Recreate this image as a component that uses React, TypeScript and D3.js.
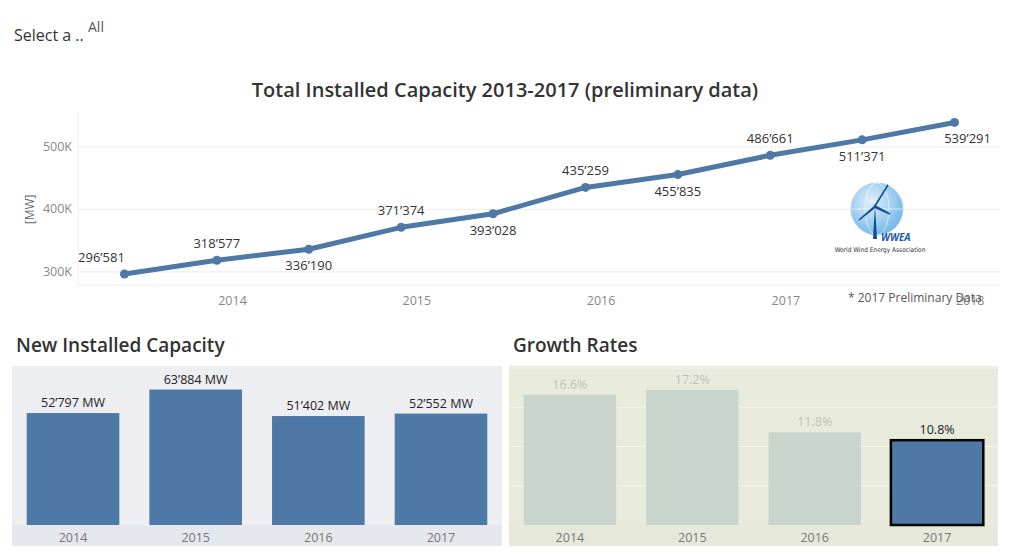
import React from "react";
import * as d3 from "d3";

const lineDates = ["2013-06", "2013-12", "2014-06", "2014-12", "2015-06", "2015-12", "2016-06", "2016-12", "2017-06", "2017-12"];
const totalCapacity = [296581, 318577, 336190, 371374, 393028, 435259, 455835, 486661, 511371, 539291];
const labelAbove = [true, true, false, true, false, true, false, true, false, false];
const yTicks = [300000, 400000, 500000];
const xTickYears = [2014, 2015, 2016, 2017, 2018];

const barYears = ["2014", "2015", "2016", "2017"];
const newCapacity = [52797, 63884, 51402, 52552];
const growthRates = [16.6, 17.2, 11.8, 10.8];
const growthGrid = [5, 10, 15, 20];
const highlightYear = "2017";

const FONT = "'Open Sans', 'Noto Sans', sans-serif";
const BLUE = "#4e78a6";

const fmt = (v: number) => d3.format(",")(v).replace(/,/g, "\u2019");

function parseYM(s: string) {
  const [y, m] = s.split("-").map(Number);
  return new Date(y, m - 1, 1);
}

export default function App() {
  const W = 1009, H = 557;
  // top line chart
  const x = d3.scaleTime().domain([new Date(2013, 2, 1), new Date(2018, 2, 1)]).range([70, 992]);
  const y = d3.scaleLinear().domain([279000, 556000]).range([277, 104]);
  const pts = lineDates.map((d, i) => ({ x: x(parseYM(d)), y: y(totalCapacity[i]), v: totalCapacity[i], above: labelAbove[i], i }));
  const line = d3.line<any>().x((d) => d.x).y((d) => d.y);

  // bar charts
  const xb = d3.scaleBand().domain(barYears).range([4, 494]).paddingInner(0.245).paddingOuter(0.12);
  const yb = d3.scaleLinear().domain([0, 75000]).range([517, 358]);
  const xg = d3.scaleBand().domain(barYears).range([501, 990]).paddingInner(0.245).paddingOuter(0.12);
  const yg = d3.scaleLinear().domain([0, 20.25]).range([517, 358]);

  return (
    <svg width={W} height={H} style={{ display: "block", fontFamily: FONT }}>
      <g>
        <text x={6} y={33} fontSize={16} fill="#333">Select a ..</text>
        <text x={80} y={24} fontSize={14} fill="#555">All</text>
      </g>
      <text x={497} y={89} fontSize={20} fontWeight={600} fill="#333" textAnchor="middle">Total Installed Capacity 2013-2017 (preliminary data)</text>
      {/* gridlines */}
      {yTicks.map((t) => (
        <g key={t}>
          <line x1={70} x2={992} y1={y(t)} y2={y(t)} stroke="#ececec" strokeWidth={1} />
          <text x={64} y={y(t) + 4} fontSize={12.5} fill="#888" textAnchor="end">{d3.format("~s")(t).replace("k", "K")}</text>
        </g>
      ))}
      <line x1={70} x2={70} y1={104} y2={277} stroke="#f0f0f0" />
      <line x1={70} x2={992} y1={277} y2={277} stroke="#eaeaea" />
      <text transform={`translate(26,${y(400000)}) rotate(-90)`} fontSize={12} fill="#666" textAnchor="middle">[MW]</text>
      {xTickYears.map((yr) => (
        <text key={yr} x={x(new Date(yr, 0, 1))} y={297} fontSize={12.5} fill="#888" textAnchor="middle">{yr}</text>
      ))}
      <path d={line(pts) || ""} fill="none" stroke={BLUE} strokeWidth={5} strokeLinejoin="round" strokeLinecap="round" />
      {pts.map((p) => (
        <circle key={p.i} cx={p.x} cy={p.y} r={4.5} fill={BLUE} />
      ))}
      {pts.map((p) => (
        <text key={"l" + p.i} x={p.x + (p.i === 0 ? -23 : p.i === pts.length - 1 ? 13 : 0)} y={p.above ? p.y - 12 : p.y + 21}
          fontSize={13} fill="#333" textAnchor="middle">{fmt(p.v)}</text>
      ))}
      {/* WWEA logo */}
      <g>
        <defs>
          <radialGradient id="globe" cx="40%" cy="35%" r="70%">
            <stop offset="0%" stopColor="#e2f1fc" />
            <stop offset="100%" stopColor="#6eb4e6" />
          </radialGradient>
        </defs>
        <circle cx={869} cy={201} r={26} fill="url(#globe)" stroke="#a8cfee" strokeWidth={1} />
        <ellipse cx={869} cy={201} rx={12} ry={26} fill="none" stroke="#ffffff" strokeOpacity={0.6} />
        <line x1={843} x2={895} y1={201} y2={201} stroke="#ffffff" strokeOpacity={0.6} />
        <path d="M867 198 L865 231 L869 231 Z" fill="#0f4f95" />
        <path d="M867 198 L880 177 L868 196 Z M867 198 L851 212 L866 200 Z M867 198 L882 206 L868 200 Z" fill="#0f4f95" stroke="#0f4f95" strokeWidth={1.5} />
        <text x={873} y={233} fontSize={10} fontWeight="bold" fontStyle="italic" fill="#1a5aa8">WWEA</text>
        <text x={872} y={244} fontSize={6.5} fill="#333" textAnchor="middle" fontFamily="'Liberation Sans Narrow', 'DejaVu Sans Condensed', sans-serif">World Wind Energy Association</text>
      </g>
      <text x={840} y={294} fontSize={12} fill="#555">* 2017 Preliminary Data</text>

      {/* New Installed Capacity */}
      <text x={8} y={344} fontSize={19} fontWeight={600} fill="#333">New Installed Capacity</text>
      <rect x={4} y={358} width={490} height={180} fill="#eceef2" />
      <rect x={4} y={517} width={490} height={21} fill="#e4e7eb" />
      {barYears.map((yr, i) => (
        <g key={yr}>
          <rect x={xb(yr)} y={yb(newCapacity[i])} width={xb.bandwidth()} height={yb(0) - yb(newCapacity[i])} fill={BLUE} />
          <text x={(xb(yr) as number) + xb.bandwidth() / 2} y={yb(newCapacity[i]) - 6} fontSize={12.5} fill="#222" textAnchor="middle">{fmt(newCapacity[i]) + " MW"}</text>
          <text x={(xb(yr) as number) + xb.bandwidth() / 2} y={534} fontSize={12.5} fill="#777" textAnchor="middle">{yr}</text>
        </g>
      ))}

      {/* Growth Rates */}
      <text x={505} y={344} fontSize={19} fontWeight={600} fill="#333">Growth Rates</text>
      <rect x={501} y={358} width={489} height={180} fill="#e8ebdc" />
      <rect x={501} y={517} width={489} height={21} fill="#e6e9d9" />
      {growthGrid.map((g) => (
        <line key={g} x1={501} x2={990} y1={yg(g)} y2={yg(g)} stroke="#f4f6ee" strokeWidth={1} />
      ))}
      {barYears.map((yr, i) => {
        const hi = yr === highlightYear;
        const bx = xg(yr) as number;
        return (
          <g key={yr}>
            <rect x={bx} y={yg(growthRates[i])} width={xg.bandwidth()} height={yg(0) - yg(growthRates[i])}
              fill={hi ? BLUE : "#c9d4cd"} stroke={hi ? "#000" : "none"} strokeWidth={hi ? 2.5 : 0} />
            <text x={bx + xg.bandwidth() / 2} y={yg(growthRates[i]) - 6} fontSize={12.5} fill={hi ? "#222" : "#bfc2bb"} textAnchor="middle">{growthRates[i].toFixed(1) + "%"}</text>
            <text x={bx + xg.bandwidth() / 2} y={534} fontSize={12.5} fill="#777" textAnchor="middle">{yr}</text>
          </g>
        );
      })}
    </svg>
  );
}
